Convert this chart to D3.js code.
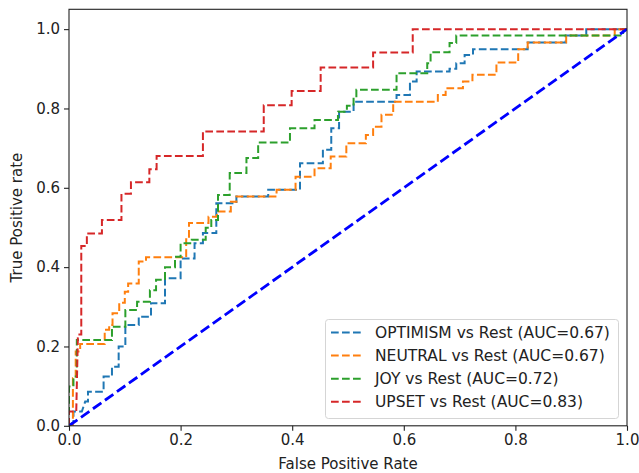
<!DOCTYPE html>
<html lang="en">

<head>
    <meta charset="UTF-8">
    <title>ROC curves</title>
    <script src="https://d3js.org/d3.v7.min.js"></script>
    <style>
        body {
            margin: 0;
            background: #fff;
            overflow: hidden;
        }

        text {
            font-family: "DejaVu Sans", sans-serif;
            fill: #222;
        }
    </style>
</head>

<body>
    <script>
        // ROC points [fpr, tpr]
        var optimismRoc = [[0, 0], [0.008, 0.01], [0.008, 0.036], [0.023, 0.036], [0.029, 0.061], [0.034, 0.061], [0.034, 0.086],
            [0.062, 0.086], [0.062, 0.124], [0.077, 0.124], [0.077, 0.149], [0.089, 0.149], [0.089, 0.2], [0.101, 0.2],
            [0.101, 0.254], [0.125, 0.254], [0.125, 0.275], [0.147, 0.275], [0.147, 0.309], [0.172, 0.309], [0.172, 0.372],
            [0.2, 0.372], [0.2, 0.422], [0.225, 0.422], [0.225, 0.46], [0.24, 0.46], [0.24, 0.486], [0.264, 0.486],
            [0.264, 0.561], [0.3, 0.561], [0.3, 0.578], [0.357, 0.578], [0.357, 0.595], [0.414, 0.595], [0.414, 0.662],
            [0.455, 0.662], [0.455, 0.696], [0.47, 0.696], [0.47, 0.75], [0.484, 0.75], [0.484, 0.792], [0.51, 0.792],
            [0.51, 0.817], [0.587, 0.817], [0.587, 0.834], [0.611, 0.834], [0.611, 0.868], [0.623, 0.868], [0.623, 0.893],
            [0.682, 0.893], [0.682, 0.9], [0.694, 0.9], [0.694, 0.914], [0.709, 0.914], [0.709, 0.935], [0.724, 0.935],
            [0.724, 0.949], [0.822, 0.949], [0.822, 0.966], [0.89, 0.966], [0.89, 0.984], [0.927, 0.984], [0.927, 1], [1, 1]];

        var neutralRoc = [[0, 0], [0.007, 0], [0.007, 0.12], [0.012, 0.12], [0.012, 0.187], [0.02, 0.187], [0.02, 0.206],
            [0.064, 0.206], [0.064, 0.242], [0.072, 0.242], [0.072, 0.254], [0.078, 0.254], [0.078, 0.284], [0.09, 0.284],
            [0.09, 0.31], [0.1, 0.31], [0.1, 0.338], [0.106, 0.338], [0.106, 0.359], [0.125, 0.359], [0.125, 0.414],
            [0.138, 0.414], [0.138, 0.425], [0.21, 0.425], [0.21, 0.47], [0.215, 0.47], [0.215, 0.511], [0.25, 0.511],
            [0.25, 0.527], [0.265, 0.527], [0.265, 0.54], [0.29, 0.54], [0.29, 0.565], [0.3, 0.565], [0.3, 0.578],
            [0.372, 0.578], [0.372, 0.595], [0.406, 0.595], [0.406, 0.628], [0.44, 0.628], [0.44, 0.649], [0.469, 0.649],
            [0.469, 0.679], [0.497, 0.679], [0.497, 0.712], [0.532, 0.712], [0.532, 0.733], [0.545, 0.733], [0.545, 0.754],
            [0.56, 0.754], [0.56, 0.784], [0.581, 0.784], [0.581, 0.817], [0.661, 0.817], [0.661, 0.834], [0.675, 0.834],
            [0.675, 0.851], [0.706, 0.851], [0.706, 0.868], [0.723, 0.868], [0.723, 0.885], [0.766, 0.885], [0.766, 0.916],
            [0.805, 0.916], [0.805, 0.949], [0.822, 0.949], [0.822, 0.966], [0.891, 0.966], [0.891, 0.984], [0.978, 0.984],
            [0.978, 1], [1, 1]];

        var joyRoc = [[0, 0], [0, 0.099], [0.008, 0.099], [0.008, 0.124], [0.014, 0.124], [0.014, 0.216], [0.077, 0.216],
            [0.077, 0.25], [0.101, 0.25], [0.101, 0.292], [0.122, 0.292], [0.122, 0.313], [0.145, 0.313], [0.145, 0.342],
            [0.156, 0.342], [0.156, 0.368], [0.172, 0.368], [0.172, 0.4], [0.19, 0.4], [0.19, 0.426], [0.2, 0.426],
            [0.2, 0.46], [0.22, 0.46], [0.22, 0.469], [0.245, 0.469], [0.245, 0.499], [0.255, 0.499], [0.255, 0.519],
            [0.267, 0.519], [0.267, 0.582], [0.288, 0.582], [0.288, 0.637], [0.318, 0.637], [0.318, 0.675], [0.339, 0.675],
            [0.339, 0.714], [0.396, 0.714], [0.396, 0.75], [0.44, 0.75], [0.44, 0.771], [0.482, 0.771], [0.482, 0.792],
            [0.498, 0.792], [0.498, 0.807], [0.51, 0.807], [0.51, 0.828], [0.515, 0.828], [0.515, 0.847], [0.587, 0.847],
            [0.587, 0.889], [0.642, 0.889], [0.642, 0.914], [0.648, 0.914], [0.648, 0.942], [0.682, 0.942], [0.682, 0.965],
            [0.694, 0.965], [0.694, 0.984], [0.993, 0.984], [0.993, 1], [1, 1]];

        var upsetRoc = [[0, 0], [0, 0.036], [0.013, 0.036], [0.016, 0.23], [0.022, 0.23], [0.022, 0.453], [0.032, 0.453],
            [0.032, 0.485], [0.059, 0.485], [0.059, 0.519], [0.094, 0.519], [0.094, 0.585], [0.111, 0.585], [0.111, 0.614],
            [0.144, 0.614], [0.144, 0.647], [0.157, 0.647], [0.157, 0.68], [0.24, 0.68], [0.24, 0.742], [0.349, 0.742],
            [0.349, 0.808], [0.399, 0.808], [0.399, 0.844], [0.451, 0.844], [0.451, 0.903], [0.545, 0.903], [0.545, 0.941],
            [0.616, 0.941], [0.616, 1], [1, 1]];

        var chanceLine = [[0, 0], [1, 1]];

        var seriesNames = ["OPTIMISM vs Rest (AUC=0.67)", "NEUTRAL vs Rest (AUC=0.67)", "JOY vs Rest (AUC=0.72)", "UPSET vs Rest (AUC=0.83)"];
        var seriesColors = ["#1f77b4", "#ff7f0e", "#2ca02c", "#d62728"];
        var xTicks = [0, 0.2, 0.4, 0.6, 0.8, 1.0];
        var yTicks = [0, 0.2, 0.4, 0.6, 0.8, 1.0];

        var width = 639, height = 473;
        var svg = d3.select("body").append("svg")
            .attr("width", width)
            .attr("height", height);

        var x = d3.scaleLinear().domain([0, 1]).range([69, 627]);
        var y = d3.scaleLinear().domain([0, 1.05]).range([425.8, 9.3]);

        var line = d3.line()
            .x(d => x(d[0]))
            .y(d => y(d[1]));

        // clip to the plot area
        svg.append("clipPath").attr("id", "plot")
            .append("rect")
            .attr("x", 69).attr("y", 9.3)
            .attr("width", 558).attr("height", 416.5);

        var plot = svg.append("g").attr("clip-path", "url(#plot)");

        var curves = [optimismRoc, neutralRoc, joyRoc, upsetRoc];
        curves.forEach(function(data, i) {
            plot.append("path")
                .datum(data)
                .attr("d", line)
                .attr("fill", "none")
                .attr("stroke", seriesColors[i])
                .attr("stroke-width", 2)
                .attr("stroke-dasharray", "7.7,3.3");
        });

        plot.append("path")
            .datum(chanceLine)
            .attr("d", line)
            .attr("fill", "none")
            .attr("stroke", "#0000ff")
            .attr("stroke-width", 2.8)
            .attr("stroke-dasharray", "10.3,4.4");

        // axes
        var xAxis = svg.append("g")
            .attr("transform", "translate(0,425.8)")
            .call(d3.axisBottom(x).tickValues(xTicks).tickFormat(d3.format(".1f")).tickSize(5).tickPadding(4));
        var yAxis = svg.append("g")
            .attr("transform", "translate(69,0)")
            .call(d3.axisLeft(y).tickValues(yTicks).tickFormat(d3.format(".1f")).tickSize(5).tickPadding(4));

        [xAxis, yAxis].forEach(function(a) {
            a.select(".domain").remove();
            a.selectAll(".tick line").attr("stroke", "#222").attr("stroke-width", 1.1);
            a.selectAll(".tick text").style("font-size", "15px").attr("fill", "#222");
        });

        // frame
        svg.append("rect")
            .attr("x", 69).attr("y", 9.3)
            .attr("width", 558).attr("height", 416.5)
            .attr("fill", "none")
            .attr("stroke", "#222")
            .attr("stroke-width", 1.1);

        svg.append("text")
            .attr("x", x(0.5)).attr("y", 469)
            .attr("text-anchor", "middle")
            .style("font-size", "15px")
            .text("False Positive Rate");

        svg.append("text")
            .attr("transform", "translate(22," + y(0.525) + ") rotate(-90)")
            .attr("text-anchor", "middle")
            .style("font-size", "15px")
            .text("True Positive rate");

        // legend
        var legend = svg.append("g");
        legend.append("rect")
            .attr("x", 325.5).attr("y", 319.5)
            .attr("width", 293).attr("height", 99)
            .attr("rx", 3)
            .attr("fill", "#fff")
            .attr("fill-opacity", 0.8)
            .attr("stroke", "#d5d5d5")
            .attr("stroke-width", 1);

        seriesNames.forEach(function(name, i) {
            var ly = 332.5 + i * 23.1;
            legend.append("line")
                .attr("x1", 331).attr("x2", 363)
                .attr("y1", ly).attr("y2", ly)
                .attr("stroke", seriesColors[i])
                .attr("stroke-width", 2)
                .attr("stroke-dasharray", "7.7,3.3");
            legend.append("text")
                .attr("x", 375).attr("y", ly)
                .attr("dy", "0.35em")
                .style("font-size", "15.5px")
                .text(name);
        });
    </script>
</body>

</html>
